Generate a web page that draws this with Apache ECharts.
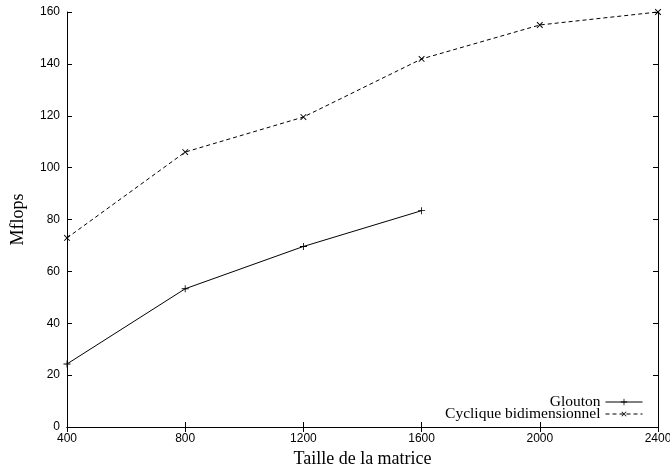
<!DOCTYPE html>
<html>
<head>
<meta charset="utf-8">
<script src="https://cdn.jsdelivr.net/npm/echarts@6/dist/echarts.min.js"></script>
<style>
  html, body { margin: 0; padding: 0; background: #fff; }
  #chart { width: 670px; height: 470px; }
</style>
</head>
<body>
<div id="chart"></div>
<script>
// Taille de la matrice
const tailles = [400, 800, 1200, 1600, 2000, 2400]
const xTicks = [400, 800, 1200, 1600, 2000, 2400]
// Mflops
const glouton = [24.3, 53.3, 69.6, 83.4]
const cyclique = [72.9, 106.0, 119.5, 141.9, 155.0, 160.0]

const plusPath = 'path://M4.4,0h1.2v10h-1.2z M0,4.4h10v1.2h-10z'

const chart = echarts.init(document.getElementById('chart'))

const tickStyle = { inside: true, length: 5, lineStyle: { color: '#000', width: 1 } }
const lineAxis = { lineStyle: { color: '#000', width: 1 } }
const labelFont = { fontFamily: 'Liberation Sans', fontSize: 12, color: '#000' }

const option = {
  backgroundColor: '#fff',
  animation: false,
  grid: { left: 67, right: 12, top: 12, bottom: 43, containLabel: false, outerBoundsMode: 'none' },
  legend: {
    orient: 'vertical',
    right: 27,
    bottom: 48,
    padding: 0,
    align: 'right',
    itemWidth: 37,
    itemHeight: 8,
    itemGap: -4,
    lineStyle: { width: 1 },
    textStyle: { fontFamily: 'Liberation Serif', fontSize: 15.5, color: '#000' },
    data: ['Glouton', 'Cyclique bidimensionnel']
  },
  xAxis: [
    {
      type: 'value',
      min: 400,
      max: 2400,
      interval: 400,
      name: 'Taille de la matrice',
      nameLocation: 'middle',
      nameGap: 20,
      nameTextStyle: { fontFamily: 'Liberation Serif', fontSize: 18, color: '#000' },
      axisLine: lineAxis,
      axisTick: tickStyle,
      axisLabel: { ...labelFont, margin: 6, formatter: v => String(v) },
      splitLine: { show: false }
    },
    {
      type: 'value',
      position: 'top',
      min: 400,
      max: 2400,
      interval: 400,
      axisLine: lineAxis,
      axisTick: tickStyle,
      axisLabel: { show: false },
      splitLine: { show: false }
    }
  ],
  yAxis: [
    {
      type: 'value',
      min: 0,
      max: 160,
      interval: 20,
      name: 'Mflops',
      nameLocation: 'middle',
      nameGap: 40,
      nameTextStyle: { fontFamily: 'Liberation Serif', fontSize: 18, color: '#000' },
      axisLine: { show: true, ...lineAxis },
      axisTick: tickStyle,
      axisLabel: { ...labelFont, margin: 7 },
      splitLine: { show: false }
    },
    {
      type: 'value',
      position: 'right',
      min: 0,
      max: 160,
      interval: 20,
      axisLine: { show: true, ...lineAxis },
      axisTick: tickStyle,
      axisLabel: { show: false },
      splitLine: { show: false }
    }
  ],
  series: [
    {
      name: 'Glouton',
      type: 'line',
      data: glouton.map((v, i) => [tailles[i], v]),
      symbol: plusPath,
      symbolSize: 7,
      showAllSymbol: true,
      itemStyle: { color: '#000' },
      lineStyle: { color: '#000', width: 1 },
      emphasis: { disabled: true }
    },
    {
      name: 'Cyclique bidimensionnel',
      type: 'line',
      data: cyclique.map((v, i) => [tailles[i], v]),
      symbol: plusPath,
      symbolRotate: 45,
      symbolSize: 8,
      showAllSymbol: true,
      clip: false,
      itemStyle: { color: '#000' },
      lineStyle: { color: '#000', width: 1, type: [4, 3] },
      emphasis: { disabled: true }
    }
  ]
}

chart.setOption(option)
</script>
</body>
</html>
